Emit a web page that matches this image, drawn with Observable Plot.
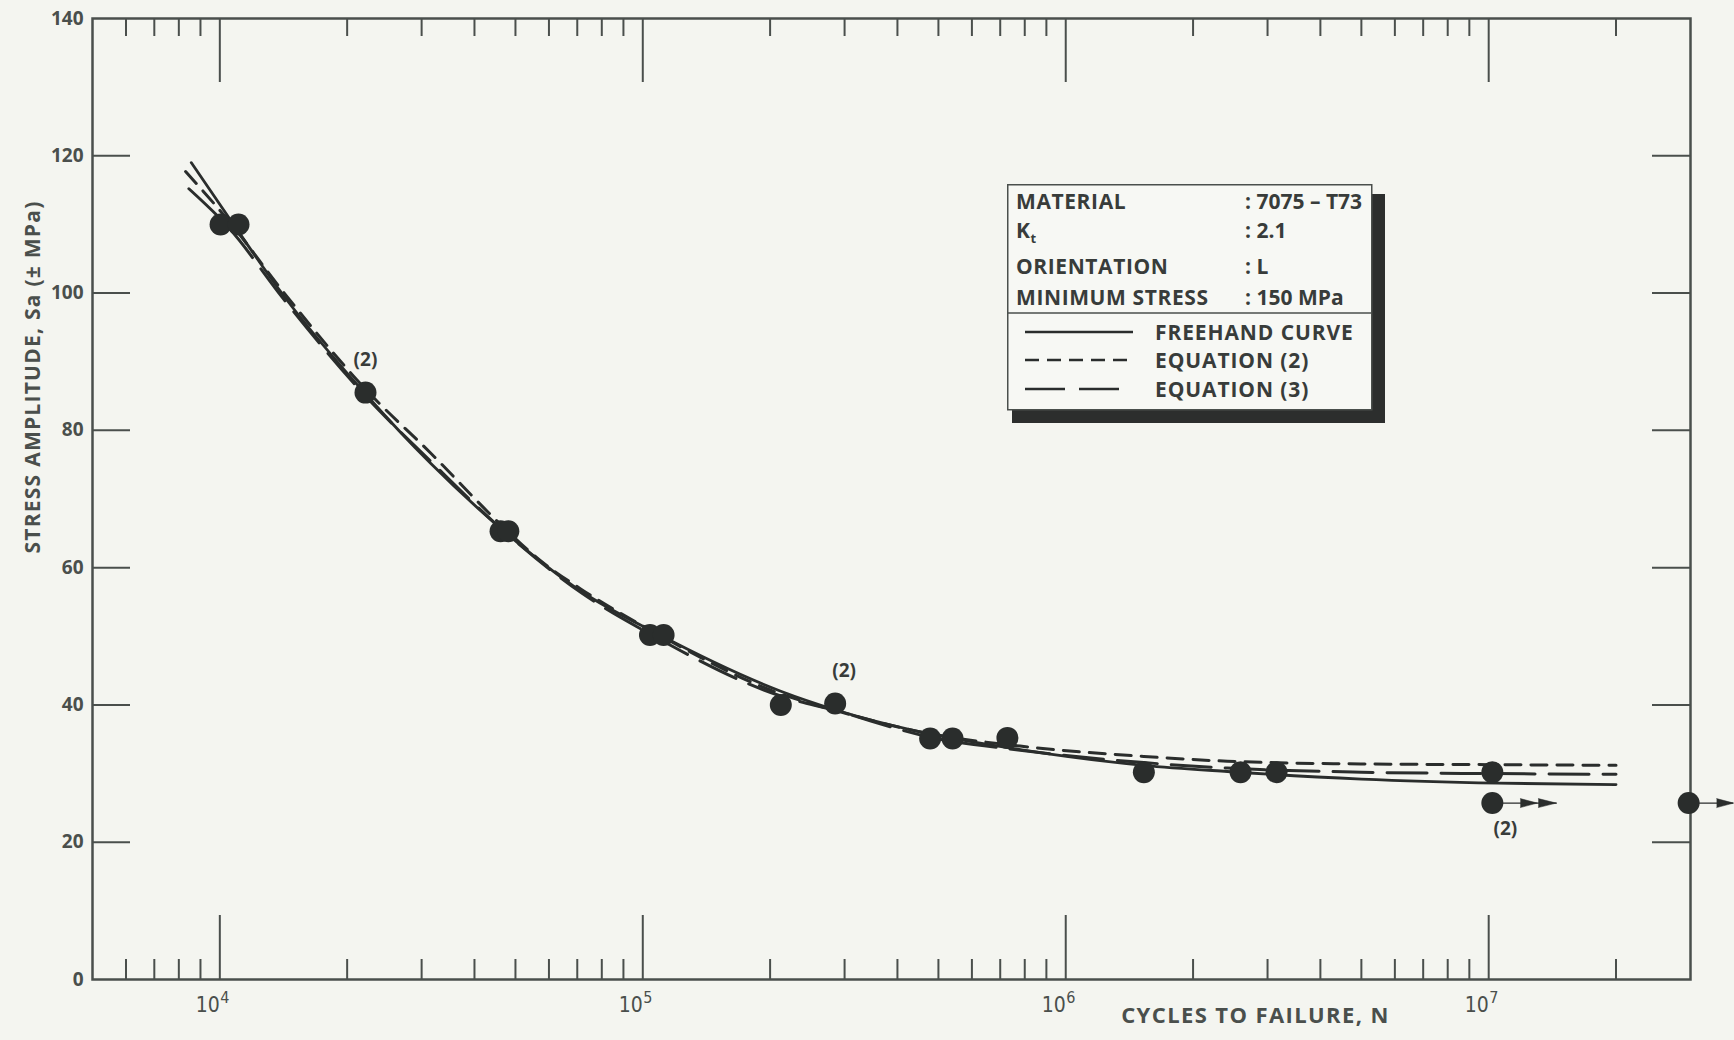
<!DOCTYPE html>
<html>
<head>
<meta charset="utf-8">
<title>Stress amplitude vs cycles to failure, 7075-T73</title>
<script src="https://cdn.jsdelivr.net/npm/d3@7"></script>
<script src="https://cdn.jsdelivr.net/npm/@observablehq/plot@0.6"></script>
<style>
  html, body { margin: 0; padding: 0; background: #f4f5f0; }
  #wrap { position: relative; width: 1734px; height: 1040px; overflow: hidden; }
  #legend { position: absolute; left: 1007px; top: 184px; }
</style>
</head>
<body>
<div id="wrap"><div id="chart"></div><div id="legend"></div></div>
<script>
// ---------------- data ----------------
// test points (cycles to failure, stress amplitude MPa)
const failN = [1.004e4, 1.107e4, 2.21e4, 4.61e4, 4.81e4, 1.04e5, 1.12e5, 2.12e5, 2.85e5, 4.78e5, 5.40e5, 7.28e5, 1.53e6, 2.59e6, 3.15e6, 1.02e7];
const failS = [110, 110, 85.5, 65.3, 65.3, 50.2, 50.2, 40, 40.2, 35.1, 35.1, 35.2, 30.2, 30.2, 30.2, 30.2];

// run-outs (no failure), number of arrow heads
const runoutN = [1.02e7, 2.97e7];
const runoutS = [25.7, 25.7];
const runoutHeads = [2, 1];

// "(2)" notes (two specimens)
const noteN = [2.21e4, 2.85e5, 1.02e7];
const noteS = [85.5, 40.2, 25.7];
const noteText = ["(2)", "(2)", "(2)"];
const noteSide = ["above", "above-right", "below"];

// freehand curve
const freeN = [8.56e3, 1.05e4, 1.42e4, 2.21e4, 3.15e4, 4.7e4, 7.13e4, 1.08e5, 2.12e5, 2.85e5, 4.36e5, 7.8e5, 1.53e6, 2.41e6, 5e6, 1.05e7, 2e7];
const freeS = [119.0, 111.0, 99.5, 85.3, 75.2, 65.3, 56.6, 50.4, 42.0, 39.3, 36.3, 33.5, 31.2, 30.3, 29.2, 28.6, 28.4];
// equation (2)
const eq2N = [8.30e3, 1.05e4, 1.42e4, 2.21e4, 3.15e4, 4.7e4, 5.73e4, 7.13e4, 1.05e5, 2.12e5, 2.85e5, 4.78e5, 7.8e5, 1.53e6, 2.41e6, 5e6, 1e7, 2e7];
const eq2S = [117.7, 110.5, 100.0, 86.0, 76.7, 65.8, 61.0, 56.9, 50.8, 41.6, 39.2, 35.8, 34.0, 32.5, 31.8, 31.4, 31.3, 31.2];
// equation (3)
const eq3N = [8.45e3, 1.05e4, 1.42e4, 2.21e4, 3.15e4, 4.7e4, 7.13e4, 1.05e5, 2.12e5, 2.85e5, 4.78e5, 7.8e5, 1.53e6, 2.41e6, 5e6, 1e7, 2e7];
const eq3S = [115.2, 109.5, 99.0, 85.0, 75.5, 65.3, 56.4, 50.2, 41.3, 39.2, 35.3, 33.4, 31.6, 30.8, 30.2, 30.0, 29.9];

// axis ticks
const decades = [1e4, 1e5, 1e6, 1e7];
const decadeExponents = ["4", "5", "6", "7"];
const minorTicks = [6e3, 7e3, 8e3, 9e3, 2e4, 3e4, 4e4, 5e4, 6e4, 7e4, 8e4, 9e4, 2e5, 3e5, 4e5, 5e5, 6e5, 7e5, 8e5, 9e5, 2e6, 3e6, 4e6, 5e6, 6e6, 7e6, 8e6, 9e6, 2e7];
const yTicks = [0, 20, 40, 60, 80, 100, 120, 140];
const yInnerTicks = [20, 40, 60, 80, 100, 120];

// texts
const yTitle = "STRESS AMPLITUDE, Sa (± MPa)";
const xTitle = "CYCLES TO FAILURE, N";
const specLabels = ["MATERIAL", "K", "ORIENTATION", "MINIMUM STRESS"];
const specSubs = ["", "t", "", ""];
const specValues = [": 7075 – T73", ": 2.1", ": L", ": 150 MPa"];
const seriesNames = ["FREEHAND CURVE", "EQUATION (2)", "EQUATION (3)"];

// ---------------- styling ----------------
const INK = "#2a2d2c";
const AXIS = "#4a4f4c";
const TXT = "#383c3a";
const FONT = "'Open Sans', 'DejaVu Sans', sans-serif";
const NARROW = "'Liberation Sans Narrow', 'DejaVu Sans Condensed', Roboto, sans-serif";
const DASH = [null, "16,10", "40,14"];

const W = 1734, H = 1040, ML = 92, MR = 44, MT = 18, MB = 61;
const IW = W - ML - MR, IH = H - MT - MB;

const failures = failN.map((n, i) => ({n, s: failS[i]}));
const runouts = runoutN.map((n, i) => ({n, s: runoutS[i], heads: runoutHeads[i]}));
const notes = noteN.map((n, i) => ({n, s: noteS[i], text: noteText[i], side: noteSide[i]}));
const toRows = (N, S) => N.map((n, i) => ({n, s: S[i]}));
const freehand = toRows(freeN, freeS);
const eq2 = toRows(eq2N, eq2S);
const eq3 = toRows(eq3N, eq3S);

const tickStyle = {stroke: AXIS, strokeWidth: 2};
const noteStyle = {x: "n", y: "s", text: "text", fontSize: 19, fontWeight: "bold", fill: TXT};

const chart = Plot.plot({
  width: W, height: H,
  marginLeft: ML, marginRight: MR, marginTop: MT, marginBottom: MB,
  style: {background: "transparent", fontFamily: FONT, overflow: "visible"},
  x: {type: "log", domain: [5000, 3e7], axis: null},
  y: {domain: [0, 140]},
  marks: [
    Plot.frame({stroke: AXIS, strokeWidth: 2.5}),
    // bottom ticks
    Plot.ruleX(minorTicks, {x: d => d, insetTop: IH - 20, ...tickStyle}),
    Plot.ruleX(decades, {x: d => d, insetTop: IH - 64, ...tickStyle}),
    // top ticks
    Plot.ruleX(minorTicks, {x: d => d, insetBottom: IH - 18, ...tickStyle}),
    Plot.ruleX(decades, {x: d => d, insetBottom: IH - 64, ...tickStyle}),
    // left / right ticks
    Plot.ruleY(yInnerTicks, {y: d => d, insetRight: IW - 38, ...tickStyle}),
    Plot.ruleY(yInnerTicks, {y: d => d, insetLeft: IW - 38, ...tickStyle}),
    Plot.axisY({ticks: yTicks, tickSize: 0, tickPadding: 9, fontSize: 19, fontWeight: "bold", fill: AXIS, label: null}),
    // x tick labels 10^k
    Plot.text(decades, {x: d => d, frameAnchor: "bottom", text: () => "10", textAnchor: "end", dy: 32, fontSize: 21, fontFamily: NARROW, fill: AXIS}),
    Plot.text(decades, {x: d => d, frameAnchor: "bottom", text: (d, i) => decadeExponents[i], textAnchor: "start", dx: 0.5, dy: 23, fontSize: 16, fontFamily: NARROW, fill: AXIS}),
    // titles
    Plot.text([yTitle], {frameAnchor: "left", text: d => d, textAnchor: "middle", rotate: -90, dx: -59, dy: -122, fontSize: 21, fontWeight: "bold", fill: AXIS}),
    Plot.text([xTitle], {frameAnchor: "bottom", text: d => d, textAnchor: "middle", dx: 364, dy: 43, fontSize: 22, fontWeight: "bold", fill: AXIS}),
    // curves
    Plot.line(freehand, {x: "n", y: "s", curve: "monotone-x", stroke: INK, strokeWidth: 2.8}),
    Plot.line(eq2, {x: "n", y: "s", curve: "monotone-x", stroke: INK, strokeWidth: 3, strokeDasharray: DASH[1]}),
    Plot.line(eq3, {x: "n", y: "s", curve: "monotone-x", stroke: INK, strokeWidth: 3, strokeDasharray: DASH[2]}),
    // run-out arrows
    Plot.vector(runouts.filter(d => d.heads === 2), {x: "n", y: "s", length: 64, rotate: 90, anchor: "start", shape: "arrow", r: 0, stroke: INK, strokeWidth: 1.3}),
    Plot.vector(runouts.filter(d => d.heads === 1), {x: "n", y: "s", length: 44, rotate: 90, anchor: "start", shape: "arrow", r: 0, stroke: INK, strokeWidth: 1.3}),
    Plot.vector(runouts, {x: "n", y: "s", length: 17, r: 4.5, rotate: 90, anchor: "start", shape: "spike", dx: 28, fill: INK, stroke: INK, strokeWidth: 0.5}),
    Plot.vector(runouts.filter(d => d.heads === 2), {x: "n", y: "s", length: 18, r: 4.5, rotate: 90, anchor: "start", shape: "spike", dx: 46, fill: INK, stroke: INK, strokeWidth: 0.5}),
    // points
    Plot.dot(failures, {x: "n", y: "s", r: 11, fill: INK}),
    Plot.dot(runouts, {x: "n", y: "s", r: 11, fill: INK}),
    // notes
    Plot.text(notes.filter(d => d.side === "above"), {...noteStyle, dy: -33}),
    Plot.text(notes.filter(d => d.side === "above-right"), {...noteStyle, dx: 9, dy: -33}),
    Plot.text(notes.filter(d => d.side === "below"), {...noteStyle, dx: 13, dy: 26})
  ]
});
// widen the lettering of the two axis titles
d3.select(chart).selectAll("text")
  .filter(function () { return this.textContent === yTitle; })
  .attr("letter-spacing", 1.25);
d3.select(chart).selectAll("text")
  .filter(function () { return this.textContent === xTitle; })
  .attr("letter-spacing", 1.4);
document.getElementById("chart").appendChild(chart);

// ---------------- legend / specimen box ----------------
const BW = 364, BH = 225;
const lg = d3.select("#legend").append("svg")
  .attr("width", 385).attr("height", 245)
  .style("overflow", "visible")
  .style("font-family", FONT);
// drop shadow strips
lg.append("rect").attr("x", BW).attr("y", 10).attr("width", 14).attr("height", BH + 4).attr("fill", "#2c2e2d");
lg.append("rect").attr("x", 5).attr("y", BH).attr("width", BW + 9).attr("height", 14).attr("fill", "#2c2e2d");
lg.append("rect").attr("x", 0.75).attr("y", 0.75).attr("width", BW).attr("height", BH)
  .attr("fill", "#f7f8f4").attr("stroke", AXIS).attr("stroke-width", 1.5);
lg.append("line").attr("x1", 0.75).attr("x2", BW + 0.75).attr("y1", 129).attr("y2", 129)
  .attr("stroke", AXIS).attr("stroke-width", 1.5);

const specBase = [25, 53.5, 90, 121];
specLabels.forEach((lab, i) => {
  const t = lg.append("text").attr("x", 9).attr("y", specBase[i])
    .attr("font-size", 21).attr("font-weight", 700).attr("fill", TXT).attr("letter-spacing", 0.6)
    .text(lab);
  if (specSubs[i]) t.append("tspan").attr("font-size", 13).attr("dy", 5).text(specSubs[i]);
  lg.append("text").attr("x", 238).attr("y", specBase[i])
    .attr("font-size", 21).attr("font-weight", 700).attr("fill", TXT)
    .text(specValues[i]);
});
const serY = [148, 176, 205];
seriesNames.forEach((name, i) => {
  lg.append("line").attr("x1", 18).attr("x2", 126).attr("y1", serY[i]).attr("y2", serY[i])
    .attr("stroke", INK).attr("stroke-width", 2.6)
    .attr("stroke-dasharray", i === 1 ? "14,8" : i === 2 ? "40,14" : null);
  lg.append("text").attr("x", 148).attr("y", serY[i] + 8)
    .attr("font-size", 21).attr("font-weight", 700).attr("fill", TXT).attr("letter-spacing", 0.9)
    .text(name);
});
</script>
</body>
</html>
